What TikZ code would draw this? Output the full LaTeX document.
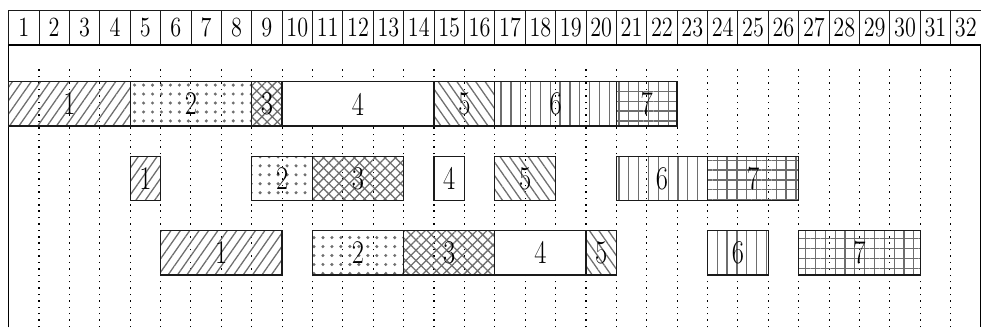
\documentclass[tikz,border=0pt]{standalone}
\usepackage{graphicx}
\usepackage{xcolor}
\definecolor{cLine}{HTML}{1A1A1A}
\definecolor{cPat}{HTML}{6E6E6E}
\usepackage{tikz}
\usetikzlibrary{positioning,patterns.meta}
\newcommand{\tallnum}[1]{\scalebox{0.8}[1]{#1}}
\tikzset{
  head-cell/.style={draw=cLine,thin,minimum width=5mm,minimum height=5.77mm,
    inner sep=0pt,outer sep=0pt,font=\fontsize{13}{13}\selectfont},
  job-box/.style={draw=cLine,semithick,inner sep=0pt,outer sep=0pt,
    minimum height=7.3mm,font=\fontsize{15.5}{15.5}\selectfont},
  % one fill per job number
  job-1/.style={job-box,pattern={Lines[angle=55,distance=3.6pt,line width=0.6pt]},pattern color=cPat},
  job-2/.style={job-box,pattern={Dots[distance=4.2pt,radius=0.8pt]},pattern color=cPat},
  job-3/.style={job-box,pattern={Hatch[angle=45,distance=3.4pt,line width=0.6pt]},pattern color=cPat},
  job-4/.style={job-box,fill=white},
  job-5/.style={job-box,pattern={Lines[angle=-55,distance=3.6pt,line width=0.6pt]},pattern color=cPat},
  job-6/.style={job-box,pattern={Lines[angle=90,distance=4.6pt,line width=0.6pt]},pattern color=cPat},
  job-7/.style={job-box,pattern={Hatch[angle=0,distance=4.6pt,line width=0.6pt]},pattern color=cPat},
  grid-line/.style={draw=black,line width=0.5pt,dash pattern=on 0.7pt off 2.3pt},
  frame-line/.style={draw=black,thick},
}

\begin{document}
\begin{tikzpicture}[x=5mm,y=5mm]
  \useasboundingbox (-0.283,0) rectangle (32.0,10.77);
  \foreach \k in {1,...,31}
    \draw[grid-line] (\k,0) -- (\k,8.59);
  \foreach \n in {1,...,32}
    \node[head-cell] (h\n) at (\n-0.5,9.8625) {\tallnum{\n}};
  \draw[frame-line] (0,0) -- (0,9.285) -- (32,9.285) -- (32,0);

  % row 1
  \node[job-1,minimum width=20mm] (t1-1) at (2,7.35) {\tallnum{1}};
  \node[job-2,minimum width=20mm,right=0mm of t1-1] (t1-2) {\tallnum{2}};
  \node[job-3,minimum width=5mm,right=0mm of t1-2]  (t1-3) {\tallnum{3}};
  \node[job-4,minimum width=25mm,right=0mm of t1-3] (t1-4) {\tallnum{4}};
  \node[job-5,minimum width=10mm,right=0mm of t1-4] (t1-5) {\tallnum{5}};
  \node[job-6,minimum width=20mm,right=0mm of t1-5] (t1-6) {\tallnum{6}};
  \node[job-7,minimum width=10mm,right=0mm of t1-6] (t1-7) {\tallnum{7}};

  % row 2
  \node[job-1,minimum width=5mm] (t2-1) at (4.5,4.9) {\tallnum{1}};
  \node[job-2,minimum width=10mm,right=15mm of t2-1] (t2-2) {\tallnum{2}};
  \node[job-3,minimum width=15mm,right=0mm of t2-2]  (t2-3) {\tallnum{3}};
  \node[job-4,minimum width=5mm,right=5mm of t2-3]   (t2-4) {\tallnum{4}};
  \node[job-5,minimum width=10mm,right=5mm of t2-4]  (t2-5) {\tallnum{5}};
  \node[job-6,minimum width=15mm,right=10mm of t2-5] (t2-6) {\tallnum{6}};
  \node[job-7,minimum width=15mm,right=0mm of t2-6]  (t2-7) {\tallnum{7}};

  % row 3
  \node[job-1,minimum width=20mm] (t3-1) at (7,2.45) {\tallnum{1}};
  \node[job-2,minimum width=15mm,right=5mm of t3-1]  (t3-2) {\tallnum{2}};
  \node[job-3,minimum width=15mm,right=0mm of t3-2]  (t3-3) {\tallnum{3}};
  \node[job-4,minimum width=15mm,right=0mm of t3-3]  (t3-4) {\tallnum{4}};
  \node[job-5,minimum width=5mm,right=0mm of t3-4]   (t3-5) {\tallnum{5}};
  \node[job-6,minimum width=10mm,right=15mm of t3-5] (t3-6) {\tallnum{6}};
  \node[job-7,minimum width=20mm,right=5mm of t3-6]  (t3-7) {\tallnum{7}};
\end{tikzpicture}
\end{document}
